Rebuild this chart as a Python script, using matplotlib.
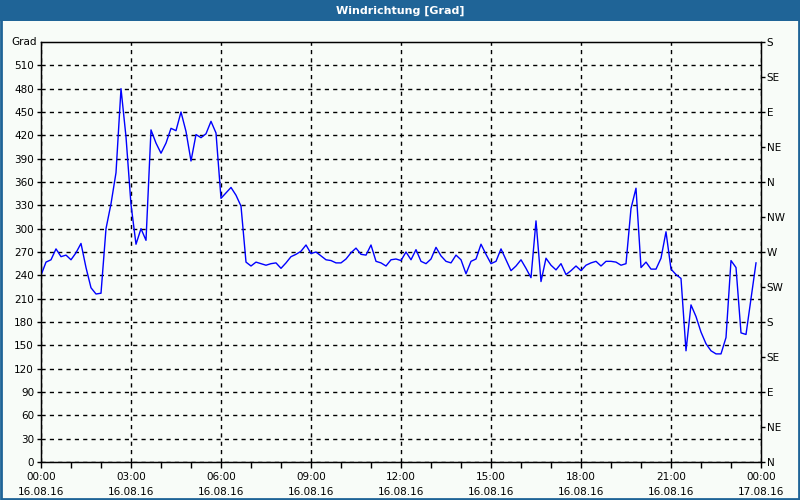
import matplotlib
matplotlib.use('Agg')
import matplotlib.pyplot as plt
from matplotlib.patches import Rectangle

plt.rc('font', family='DejaVu Sans', size=7.5)

# wind direction in degrees, one value every 10 minutes from 00:00 to 23:50
grad = [240, 257, 260, 274, 264, 266, 260, 269, 281, 250, 224, 216, 217, 300, 332, 372,
        480, 418, 331, 280, 300, 285, 427, 410, 397, 410, 429, 426, 450, 425, 387, 421,
        417, 422, 438, 423, 339, 346, 353, 343, 329, 257, 252, 257, 255, 253, 255, 256,
        249, 256, 264, 267, 271, 279, 268, 270, 265, 260, 259, 256, 256, 261, 269, 275,
        267, 266, 279, 258, 256, 252, 260, 261, 259, 270, 260, 273, 258, 255, 261, 276,
        265, 258, 256, 266, 260, 242, 258, 261, 280, 267, 255, 258, 274, 260, 246, 252,
        260, 249, 237, 310, 232, 262, 253, 247, 255, 241, 246, 252, 246, 253, 256, 258,
        252, 258, 258, 257, 253, 255, 326, 352, 250, 257, 248, 248, 262, 296, 248, 241,
        236, 143, 202, 187, 167, 152, 143, 139, 139, 160, 259, 250, 166, 164, 210, 256]
hours = [i / 6 for i in range(len(grad))]

x_ticks = [0, 3, 6, 9, 12, 15, 18, 21, 24]
x_labels = ['00:00\n16.08.16', '03:00\n16.08.16', '06:00\n16.08.16', '09:00\n16.08.16',
            '12:00\n16.08.16', '15:00\n16.08.16', '18:00\n16.08.16', '21:00\n16.08.16',
            '00:00\n17.08.16']
y_ticks = list(range(0, 540, 30))
dir_ticks = list(range(0, 541, 45))
dir_labels = ['N', 'NE', 'E', 'SE', 'S', 'SW', 'W', 'NW', 'N', 'NE', 'E', 'SE', 'S']

bg = '#f8fcf8'
blue = '#1f6497'

fig = plt.figure(figsize=(8, 5), dpi=100, facecolor=bg)
ax = fig.add_axes([41 / 800, 38 / 500, 720 / 800, 420 / 500], facecolor=bg)

# title bar + frame
fig.patches.append(Rectangle((0, 1 - 21 / 500), 1, 21 / 500, transform=fig.transFigure,
                             facecolor=blue, edgecolor='none', zorder=0))
fig.patches.append(Rectangle((0.001, 0.002), 0.998, 0.996, transform=fig.transFigure,
                             facecolor='none', edgecolor=blue, lw=2, zorder=1))
fig.text(0.5, 1 - 10.5 / 500, 'Windrichtung [Grad]', color='white', ha='center',
         va='center', fontsize=8, fontweight='bold')

ax.plot(hours, grad, color='#0000ff', lw=1, zorder=3)

ax.set_xlim(0, 24)
ax.set_ylim(0, 540)
ax.set_xticks(x_ticks)
ax.set_xticklabels(x_labels, linespacing=1.6)
ax.set_xticks(range(25), minor=True)
ax.set_yticks(y_ticks)
ax.tick_params(axis='x', which='both', direction='out', length=4, width=1, pad=3)
ax.tick_params(axis='y', direction='out', length=3, width=1, pad=2)
for s in ax.spines.values():
    s.set_linewidth(1)
    s.set_color('black')

ax.grid(True, which='major', color='black', linestyle=(0, (3, 3)), linewidth=1)
ax.set_axisbelow(True)

ax.text(-0.006, 1.0, 'Grad', transform=ax.transAxes, ha='right', va='center')

ax2 = ax.twinx()
ax2.set_ylim(0, 540)
ax2.set_yticks(dir_ticks)
ax2.set_yticklabels(dir_labels)
ax2.tick_params(axis='y', direction='out', length=3, width=1, pad=1)

fig.savefig('out.png', dpi=100, facecolor=bg)
